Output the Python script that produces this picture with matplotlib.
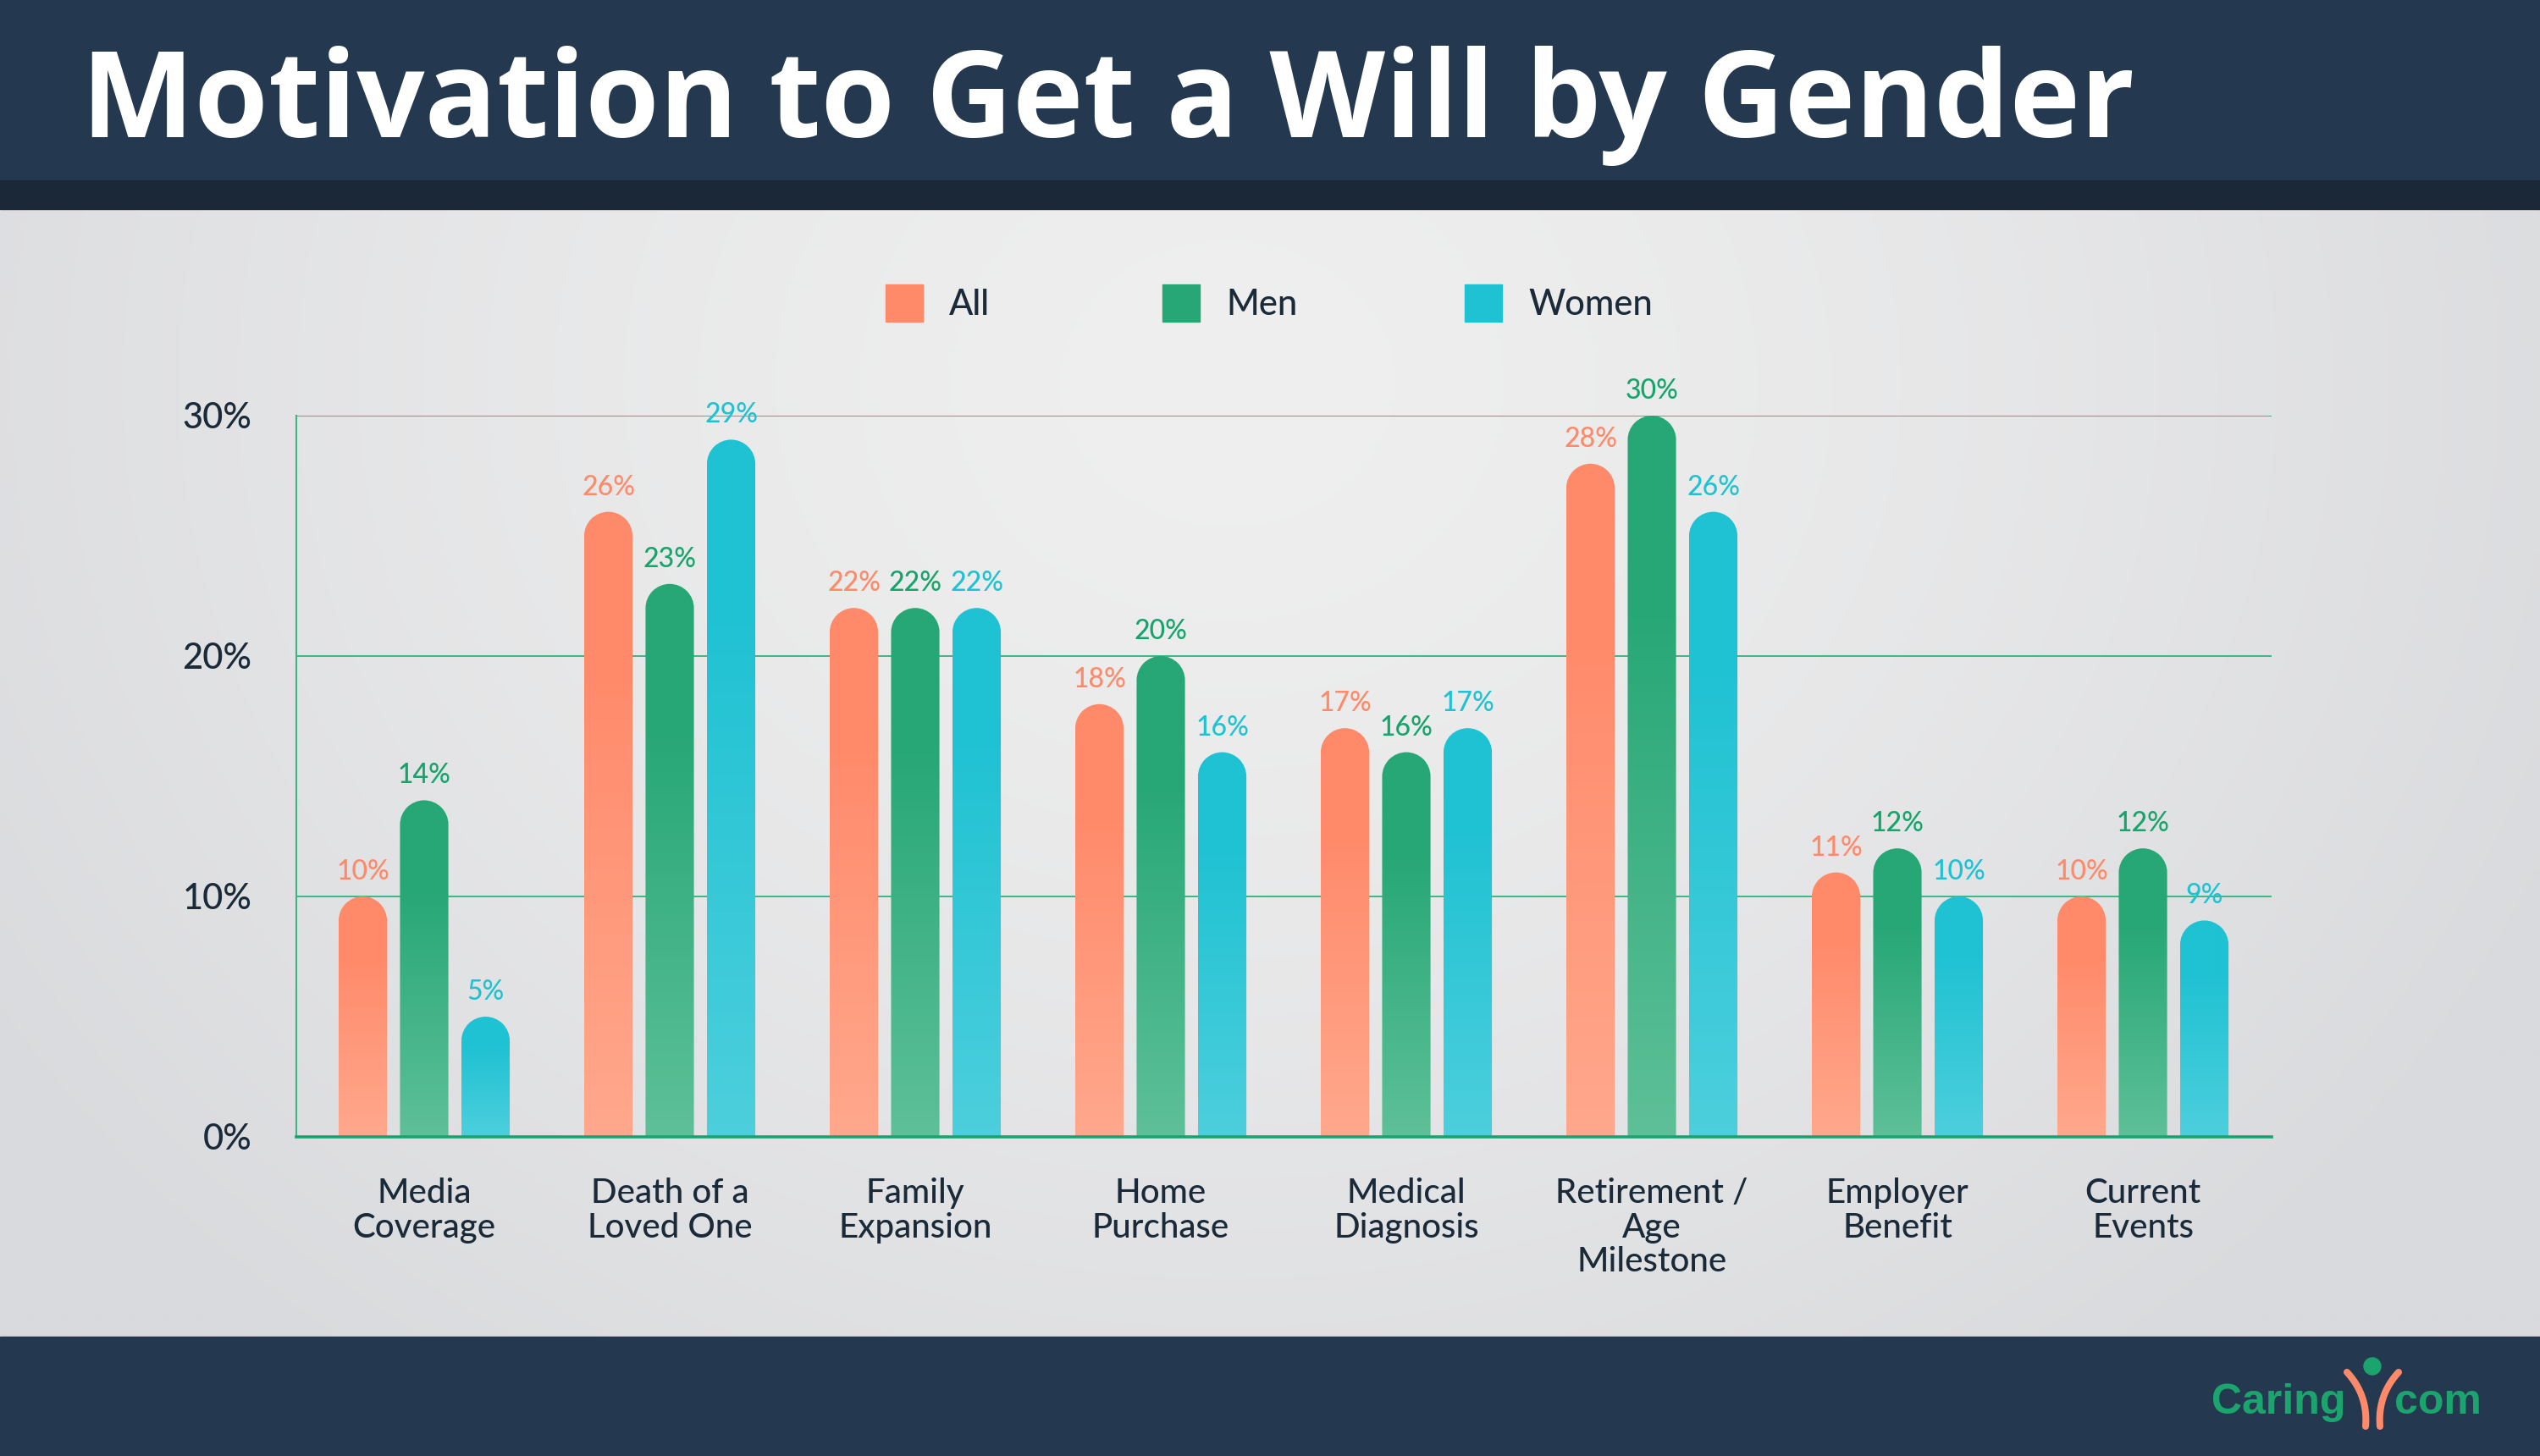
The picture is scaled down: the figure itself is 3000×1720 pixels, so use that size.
import matplotlib
matplotlib.use("Agg")
import matplotlib.pyplot as plt
import numpy as np
from matplotlib.colors import to_rgb
from matplotlib.patches import Circle, PathPatch, Rectangle
from matplotlib.path import Path
from matplotlib.transforms import Affine2D

plt.rcParams["font.family"] = ["Lato", "DejaVu Sans"]

W, H = 3000, 1720

TITLE = "Motivation to Get a Will by Gender"
CATEGORIES = [
    "Media\nCoverage",
    "Death of a\nLoved One",
    "Family\nExpansion",
    "Home\nPurchase",
    "Medical\nDiagnosis",
    "Retirement /\nAge\nMilestone",
    "Employer\nBenefit",
    "Current\nEvents",
]
SERIES = ["All", "Men", "Women"]
ALL = [10, 26, 22, 18, 17, 28, 11, 10]
MEN = [14, 23, 22, 20, 16, 30, 12, 12]
WOMEN = [5, 29, 22, 16, 17, 26, 10, 9]
Y_TICKS = [0, 10, 20, 30]

# (top colour, bottom colour) of each bar gradient
BAR_COLORS = {
    "All": ("#FF8A6A", "#FFA88D"),
    "Men": ("#26A775", "#5EC098"),
    "Women": ("#1FC2D3", "#4DCFDD"),
}
LABEL_COLORS = {"All": "#FF8A6A", "Men": "#17A36C", "Women": "#1FC2D3"}
NAVY = "#243950"
NAVY_DARK = "#1B2837"
TEXT = "#1A2A38"
GRID = "#3FB484"
LOGO_GREEN = "#1BA46D"
LOGO_ORANGE = "#FF8A6A"

BAR_W = 0.197
OFFSET = 0.25


def rounded_bar(x0, x1, top, ry):
    """Bar path with a half-round cap, in data coords."""
    rx = (x1 - x0) / 2
    arc = Path.arc(0, 180)
    arc_v = Affine2D().scale(rx, ry).translate(x0 + rx, top - ry).transform(arc.vertices)
    verts = [(x1, 0), (x1, top - ry)] + [tuple(v) for v in arc_v[1:]] + [(x0, 0), (x1, 0)]
    codes = [Path.MOVETO, Path.LINETO] + list(arc.codes[1:]) + [Path.LINETO, Path.CLOSEPOLY]
    return Path(verts, codes)


def gradient_column(top_c, bot_c, n=256):
    t = np.linspace(0, 1, n)  # 0 = bottom, 1 = top
    s = 1 - t
    mix = np.clip((s - 0.25) / 0.75, 0, 1)[:, None]
    col = np.array(to_rgb(top_c)) * (1 - mix) + np.array(to_rgb(bot_c)) * mix
    return col[:, None, :]


fig = plt.figure(figsize=(30, 17.2), dpi=100)

# ---- background / frame, in pixel coords ----
bg = fig.add_axes([0, 0, 1, 1])
bg.set_xlim(0, W)
bg.set_ylim(H, 0)
bg.axis("off")

gx = np.linspace(0, W, 300)
gy = np.linspace(247, 1579, 140)
xx, yy = np.meshgrid(gx, gy)
d = np.clip(np.sqrt(((xx - 1450) / 1750) ** 2 + ((yy - 450) / 1500) ** 2), 0, 1) ** 1.4
light = np.array(to_rgb("#EFEFEF"))
dark = np.array(to_rgb("#D9DADD"))
bg_img = light * (1 - d[..., None]) + dark * d[..., None]
bg.imshow(bg_img, extent=(0, W, 1579, 247), aspect="auto", interpolation="bilinear", zorder=0)

bg.add_patch(Rectangle((0, 0), W, 213, color=NAVY, zorder=1))
bg.add_patch(Rectangle((0, 213), W, 34, color=NAVY_DARK, zorder=1))
bg.add_patch(Rectangle((0, 1579), W, H - 1579, color=NAVY, zorder=1))

title = bg.text(96, 162, TITLE, color="white", fontsize=90, fontweight="bold",
                family=["Open Sans", "DejaVu Sans"], ha="left", va="baseline", zorder=2)
fig.canvas.draw()
bb = title.get_window_extent()
title.set_fontsize(90 * 2425 / bb.width)

# legend
legend_x = [1046, 1373, 1730]
for name, lx in zip(SERIES, legend_x):
    bg.add_patch(Rectangle((lx, 336), 44, 44, color=BAR_COLORS[name][0], zorder=2))
    bg.text(lx + 75, 372, name, color=TEXT, fontsize=30, fontweight="medium",
            ha="left", va="baseline", zorder=2)

# logo
bg.text(2612, 1670, "Caring", color=LOGO_GREEN, fontsize=36, fontweight="bold",
        family=["Liberation Sans", "DejaVu Sans"], ha="left", va="baseline", zorder=2)
bg.text(2828, 1670, "com", color=LOGO_GREEN, fontsize=36, fontweight="bold",
        family=["Liberation Sans", "DejaVu Sans"], ha="left", va="baseline", zorder=2)
tb = np.linspace(0, 1, 40)
for p0, p1, p2 in [((2772, 1621), (2797, 1648), (2794, 1685)),
                   ((2833, 1621), (2808, 1648), (2811, 1685))]:
    bx = (1 - tb) ** 2 * p0[0] + 2 * (1 - tb) * tb * p1[0] + tb ** 2 * p2[0]
    by = (1 - tb) ** 2 * p0[1] + 2 * (1 - tb) * tb * p1[1] + tb ** 2 * p2[1]
    bg.plot(bx, by, color=LOGO_ORANGE, lw=5.8, solid_capstyle="round", zorder=2)
bg.add_patch(Circle((2802, 1614), 10, color=LOGO_GREEN, zorder=3))

# ---- chart ----
ax = fig.add_axes([350 / W, 1 - 1343 / H, (2683 - 350) / W, (1343 - 491) / H])
ax.patch.set_visible(False)
ax.set_xlim(-0.5207, 7.524)
ax.set_ylim(0, 30)
for side in ["top", "right"]:
    ax.spines[side].set_visible(False)
ax.spines["left"].set_color(GRID)
ax.spines["left"].set_linewidth(1.5)
ax.spines["bottom"].set_color("#1AA36F")
ax.spines["bottom"].set_linewidth(2.6)
ax.spines["bottom"].set_zorder(5)

ax.set_yticks(Y_TICKS)
ax.set_yticklabels([f"{v}%" for v in Y_TICKS], fontsize=30, fontweight="medium", color=TEXT)
ax.tick_params(axis="y", length=0, pad=38)
ax.yaxis.grid(True, color=GRID, lw=1.4)
ax.set_axisbelow(True)
ax.set_xticks([])

# radius of the round cap, so it looks circular on screen
fig.canvas.draw()
px_x = ax.transData.transform((1, 0))[0] - ax.transData.transform((0, 0))[0]
px_y = ax.transData.transform((0, 1))[1] - ax.transData.transform((0, 0))[1]
ry = (BAR_W / 2) * px_x / px_y

for si, (name, vals) in enumerate(zip(SERIES, [ALL, MEN, WOMEN])):
    grad = gradient_column(*BAR_COLORS[name])
    for i, v in enumerate(vals):
        xc = i + (si - 1) * OFFSET
        x0, x1 = xc - BAR_W / 2, xc + BAR_W / 2
        patch = PathPatch(rounded_bar(x0, x1, v, ry), facecolor="none", edgecolor="none")
        ax.add_patch(patch)
        im = ax.imshow(grad, extent=(x0, x1, 0, v), origin="lower", aspect="auto",
                       interpolation="bilinear", zorder=3)
        im.set_clip_path(patch)
        ax.annotate(f"{v}%", xy=(xc, v), xytext=(0, 20), textcoords="offset pixels",
                    ha="center", va="baseline", fontsize=23, fontweight="medium",
                    color=LABEL_COLORS[name], annotation_clip=False, zorder=4)

for i, cat in enumerate(CATEGORIES):
    ax.annotate(cat, xy=(i, 0), xytext=(0, -48), textcoords="offset pixels",
                ha="center", va="top", fontsize=29, fontweight="medium", color=TEXT,
                linespacing=1.12, annotation_clip=False)

ax.set_xlim(-0.5207, 7.524)
ax.set_ylim(0, 30)

fig.savefig("out.png", dpi=100)
